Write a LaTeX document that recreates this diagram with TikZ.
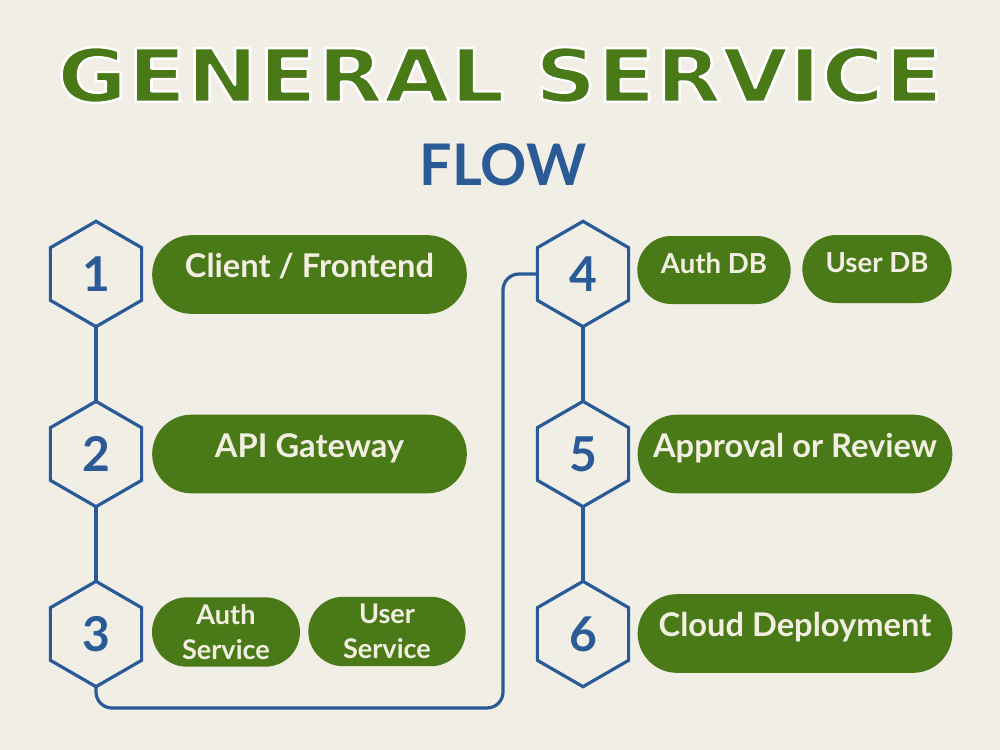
\documentclass[tikz,border=0pt]{standalone}
\usepackage{fontspec}
\setmainfont{Lato}
\newfontfamily\titlefont[LetterSpace=1]{DejaVu Sans}
\usetikzlibrary{shapes.geometric,shapes.misc,backgrounds}
\pgfdeclarelayer{bottom}
\pgfsetlayers{bottom,background,main}
\definecolor{bg}{HTML}{F1EEE6}
\definecolor{grn}{HTML}{4A7A18}
\definecolor{blu}{HTML}{2A5B96}
\definecolor{cream}{HTML}{F2EFE2}
\newcommand\mytitle{\resizebox{664pt}{41pt}{\special{pdf:literal direct 2 Tr 1 1 1 RG 0.32 w 1 j}\titlefont\bfseries GENERAL\ SERVICE\special{pdf:literal direct 0 Tr}}}
\begin{document}
\begin{tikzpicture}[x=0.75pt,y=-0.75pt,
  hex/.style={regular polygon, regular polygon sides=6, shape border rotate=30,
    minimum size=79pt, inner sep=0pt, draw=blu, line width=2.4pt, fill=bg,
    text=blu, font=\fontsize{36}{36}\selectfont\bfseries},
  pill/.style={rounded rectangle, fill=grn, text=cream, inner sep=0pt,
    font=\fontsize{24.5}{28}\selectfont\bfseries, text height=0.75em, text depth=0.28em},
  pillsm/.style={rounded rectangle, fill=grn, text=cream, inner sep=0pt, align=center,
    font=\fontsize{20.3}{26}\selectfont\bfseries},
  link/.style={draw=blu, line width=2.4pt},
  ttl/.style={inner sep=0pt}]
\begin{pgfonlayer}{bottom}
\fill[bg] (0,0) rectangle (1000,750);
\end{pgfonlayer}
\useasboundingbox (0,0) rectangle (1000,750);
% title
\node[ttl, text=grn] (title) at (500,75) {\mytitle};
\node[ttl, text=blu, font=\fontsize{43}{43}\selectfont\bfseries] (flow) at (503,165) {FLOW};
% hexagons
\node[hex] (h1) at (96,274) {1};
\node[hex] (h2) at (96,454) {2};
\node[hex] (h3) at (96,634) {3};
\node[hex] (h4) at (583,274) {4};
\node[hex] (h5) at (583,454) {5};
\node[hex] (h6) at (583,634) {6};
\coordinate (turn) at (503,708);
\begin{pgfonlayer}{background}
\draw[link] (h1.center) -- (h2.center);
\draw[link] (h2.center) -- (h3.center);
\draw[link, rounded corners=12pt] (h3.center) |- (turn) |- (h4.center);
\draw[link] (h4.center) -- (h5.center);
\draw[link] (h5.center) -- (h6.center);
\end{pgfonlayer}
% pills
\node[pill, minimum width=236pt, minimum height=59pt] (p1) at (309.5,274.5) {Client / Frontend};
\node[pill, minimum width=236pt, minimum height=59pt] (p2) at (309.5,454) {API Gateway};
\node[pillsm, minimum width=111pt, minimum height=52pt] (p3a) at (226,632) {Auth\\Service};
\node[pillsm, minimum width=118pt, minimum height=52pt] (p3b) at (387,631.5) {User\\Service};
\node[pill, font=\fontsize{20.7}{24}\selectfont\bfseries, minimum width=115pt, minimum height=51pt] (p4a) at (714,270) {Auth DB};
\node[pill, font=\fontsize{20.7}{24}\selectfont\bfseries, minimum width=112pt, minimum height=51pt] (p4b) at (877,269) {User DB};
\node[pill, minimum width=236pt, minimum height=59pt] (p5) at (795,454) {Approval or Review};
\node[pill, minimum width=236pt, minimum height=59pt] (p6) at (795,633.5) {Cloud Deployment};
\end{tikzpicture}
\end{document}
